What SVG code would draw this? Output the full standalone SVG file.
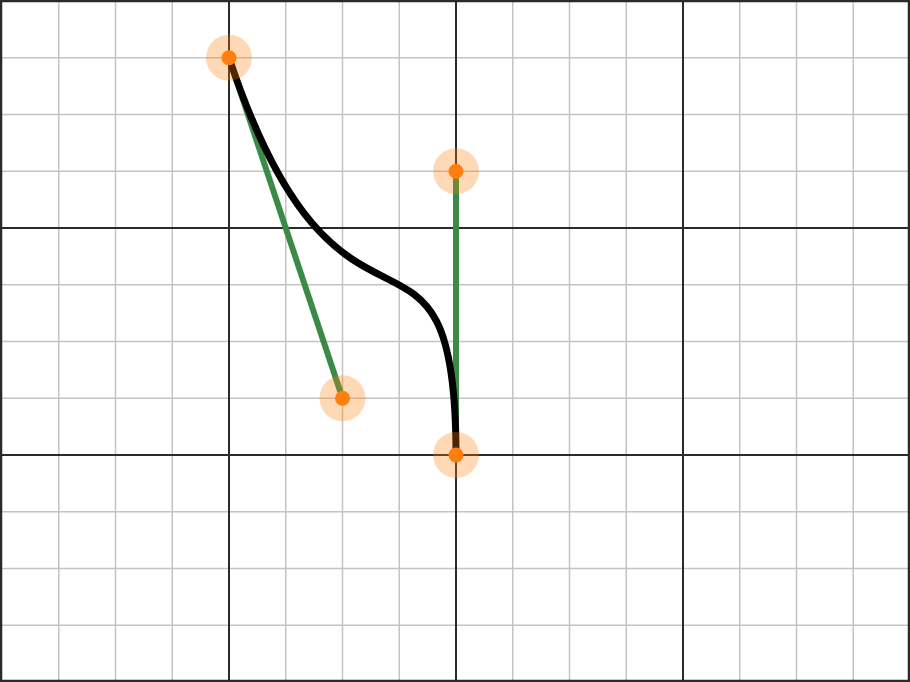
<svg xmlns="http://www.w3.org/2000/svg" width="910" height="682" viewBox="0 0 910 682">
<style>
.minor{stroke:#c4c4c4;stroke-width:1.5;fill:none}
.major{stroke:#2a2a2a;stroke-width:2;fill:none}
.handle{stroke:#3a8a48;stroke-width:6;stroke-linecap:butt;fill:none}
.curve{stroke:#000;stroke-width:7;fill:none}
.halo{fill:#ff7f0e;fill-opacity:0.3}
.dot{fill:#ff7f0e}
</style>
<rect width="910" height="682" fill="#fff"/>
<g id="grid">
<g class="minor">
<path d="M58.75 0V682M115.5 0V682M172.25 0V682M285.75 0V682M342.5 0V682M399.25 0V682M512.75 0V682M569.5 0V682M626.25 0V682M739.75 0V682M796.5 0V682M853.25 0V682"/>
<path d="M0 57.75H910M0 114.5H910M0 171.25H910M0 284.75H910M0 341.5H910M0 398.25H910M0 511.75H910M0 568.5H910M0 625.25H910"/>
</g>
<g class="major">
<path d="M229 0V682M456 0V682M683 0V682M0 228H910M0 455H910"/>
</g>
<rect x="1" y="1" width="908" height="680" fill="none" stroke="#2a2a2a" stroke-width="2.5"/>
</g>
<g id="connectors">
<line class="handle" x1="229" y1="57.75" x2="342.5" y2="398.25"/>
<line class="handle" x1="456" y1="171.25" x2="456" y2="455"/>
<path class="curve" d="M229 57.75C342.5 398.25 456 171.25 456 455"/>
</g>
<g id="p0"><circle class="halo" cx="229" cy="57.75" r="23"/><circle class="dot" cx="229" cy="57.75" r="7.5"/></g>
<g id="c1"><circle class="halo" cx="342.5" cy="398.25" r="23"/><circle class="dot" cx="342.5" cy="398.25" r="7.5"/></g>
<g id="c2"><circle class="halo" cx="456" cy="171.25" r="23"/><circle class="dot" cx="456" cy="171.25" r="7.5"/></g>
<g id="p3"><circle class="halo" cx="456" cy="455" r="23"/><circle class="dot" cx="456" cy="455" r="7.5"/></g>
</svg>
